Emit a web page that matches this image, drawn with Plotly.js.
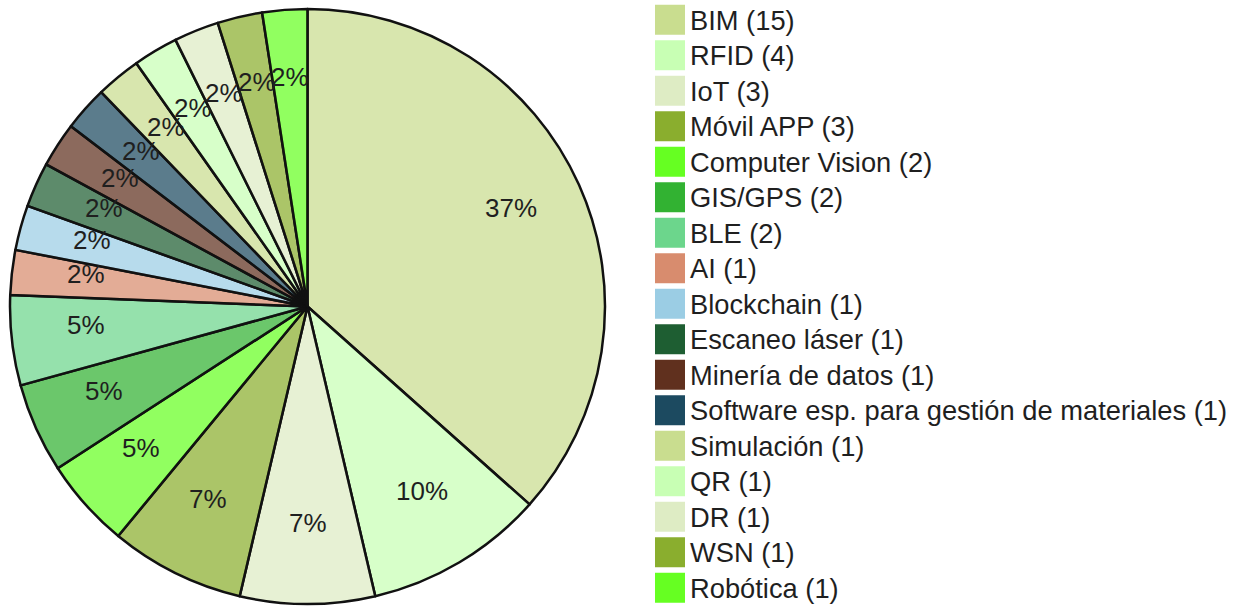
<!DOCTYPE html>
<html>
<head>
<meta charset="utf-8">
<script src="https://cdn.plot.ly/plotly-3.0.1.min.js"></script>
<style>
html,body{margin:0;padding:0;background:#fff;}
#chart{width:1248px;height:606px;}
</style>
</head>
<body>
<div id="chart"></div>
<script>
const categories = ["BIM","RFID","IoT","Móvil APP","Computer Vision","GIS/GPS","BLE","AI","Blockchain","Escaneo láser","Minería de datos","Software esp. para gestión de materiales","Simulación","QR","DR","WSN","Robótica"];
const counts = [15,4,3,3,2,2,2,1,1,1,1,1,1,1,1,1,1];
const palette = ["#c9dd8f","#c8ffb4","#deecc4","#8aae2e","#66ff22","#32b232","#6cd68c","#d88c6e","#9bcde4","#1e5e32","#60301e","#1c4a60"];
const sliceAlpha = 0.72;

const baseColors = categories.map((c,i)=>palette[i % palette.length]);
function hexToRgba(h,a){
  const r=parseInt(h.slice(1,3),16),g=parseInt(h.slice(3,5),16),b=parseInt(h.slice(5,7),16);
  return `rgba(${r},${g},${b},${a})`;
}
const sliceColors = baseColors.map(c=>hexToRgba(c,sliceAlpha));
const legendLabels = categories.map((c,i)=>`${c} (${counts[i]})`);
const FONT = '"Liberation Sans", Arial, sans-serif';

const W=1248,H=606;
// pie domain in pixels
const px0=10, px1=605, pyTop=9, pyBot=604;
const trace = {
  type:'pie',
  labels: legendLabels,
  values: counts,
  sort:false,
  direction:'clockwise',
  rotation:0,
  textinfo:'none',
  marker:{colors:sliceColors, line:{color:'#111111', width:2.5}},
  domain:{x:[px0/W, px1/W], y:[(H-pyBot)/H, (H-pyTop)/H]},
  hoverinfo:'label+percent'
};

// percent labels placed on each slice's bisector at 3/4 of the radius
const total = counts.reduce((a,b)=>a+b,0);
const cx=(px0+px1)/2, cy=(pyTop+pyBot)/2, R=Math.min(px1-px0,pyBot-pyTop)/2;
let cum=0;
const annotations = counts.map((v)=>{
  const mid = (cum + v/2)/total*2*Math.PI; cum += v;
  const x = cx + 0.75*R*Math.sin(mid), y = cy - 0.75*R*Math.cos(mid);
  return {xref:'paper', yref:'paper', x:x/W, y:1-y/H, xanchor:'center', yanchor:'middle', yshift:7,
    text: Math.round(v/total*100)+'%', showarrow:false,
    font:{family:FONT, size:26, color:'#1f1f1f'}};
});

const layout = {
  width:W, height:H,
  margin:{l:0,r:0,t:0,b:0},
  paper_bgcolor:'#ffffff',
  showlegend:true,
  annotations: annotations,
  legend:{
    x:650/W, xanchor:'left', y:1, yanchor:'top',
    font:{family:FONT, size:25, color:'#1f1f1f'},
    bgcolor:'rgba(0,0,0,0)', borderwidth:0, tracegroupgap:0
  },
  font:{family:FONT}
};
function fixLegend(){
  document.querySelectorAll('#chart .legend .traces').forEach((g)=>{
    const d = g.__data__;
    let idx = -1;
    if(d && d[0] && d[0].label!==undefined) idx = legendLabels.indexOf(d[0].label);
    const p = g.querySelector('.legendpoints path');
    if(p){
      p.setAttribute('d','M15,15H-15V-15H15Z');
      if(idx>=0){ p.style.fill = baseColors[idx]; p.style.fillOpacity = 1; }
      p.style.strokeWidth = 0;
    }
    const t = g.querySelector('.legendtext');
    if(t){ t.style.fontSize = '27.3px'; }
  });
  const lg = document.querySelector('#chart .legend');
  if(lg){
    const sb = lg.querySelector('.scrollbox');
    if(sb) sb.removeAttribute('clip-path');
    const m = /translate\(([-\d.]+)[ ,]+([-\d.]+)\)/.exec(lg.getAttribute('transform')||'');
    if(m){ lg.setAttribute('transform', `translate(${m[1]},${parseFloat(m[2])-3})`); }
  }
}
Plotly.newPlot('chart',[trace],layout,{displayModeBar:false,staticPlot:true}).then(fixLegend);
</script>
</body>
</html>
